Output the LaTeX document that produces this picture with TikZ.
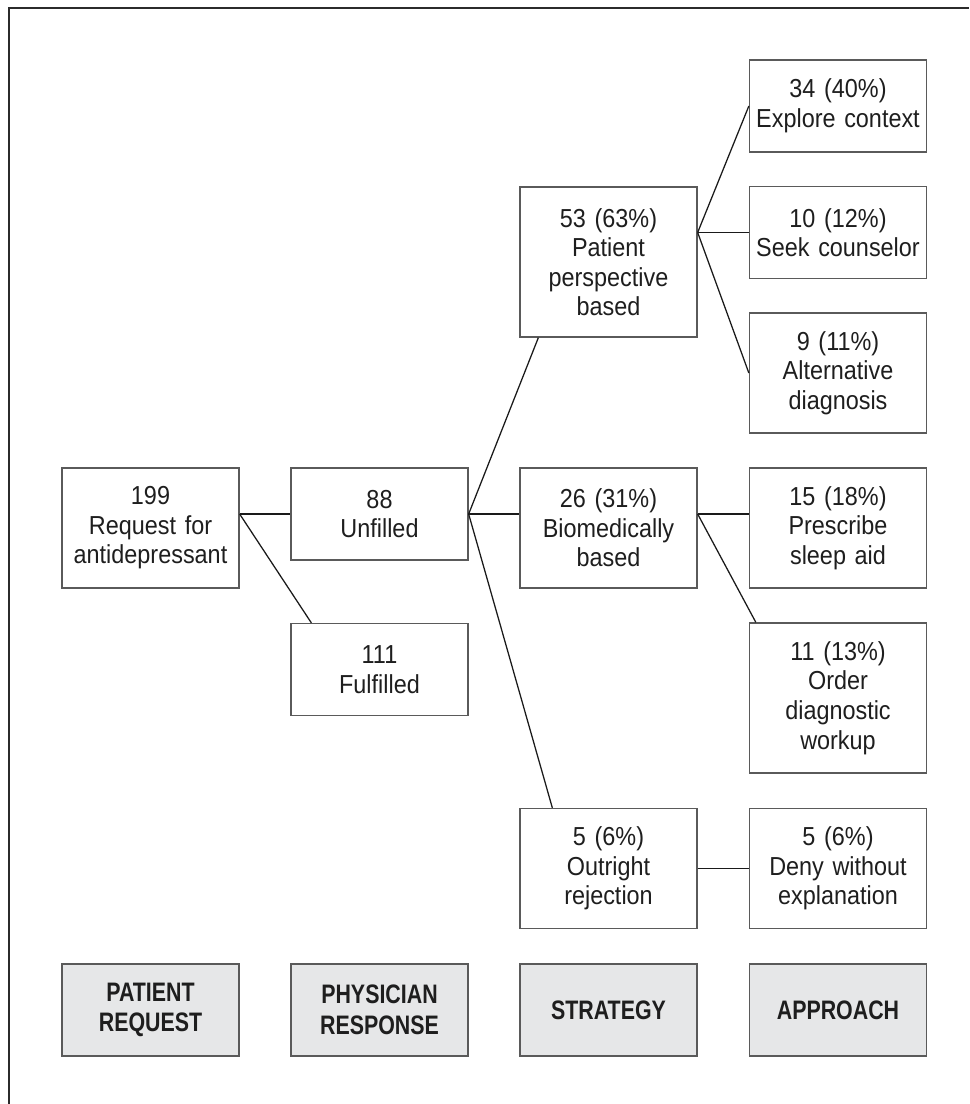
\documentclass[tikz,border=0pt]{standalone}
\usepackage{fontspec}
\setmainfont{Liberation Sans}[FakeStretch=0.9]
\newfontfamily\headfont{Liberation Sans}[FakeStretch=0.8]
\usetikzlibrary{calc}
\definecolor{FrameDark}{HTML}{2B2B2B}
\definecolor{BoxEdge}{HTML}{5A5A5A}
\definecolor{LinkBlack}{HTML}{1A1A1A}
\definecolor{HeadFill}{HTML}{E6E7E8}
\definecolor{TextDark}{HTML}{1E1E1E}

\tikzset{
    countbox/.style={draw=BoxEdge, line width=0.9pt, minimum width=4.425cm, text width=4.35cm,
        align=center, inner sep=0pt, text=TextDark, font=\fontsize{18.5}{21}\selectfont},
    headbox/.style={countbox, fill=HeadFill, minimum height=2.3cm,
        font=\headfont\bfseries\fontsize{19}{21.8}\selectfont},
    link/.style={draw=LinkBlack, line width=0.9pt},
}

\begin{document}
\begin{tikzpicture}[x=0.025cm, y=-0.025cm]
    \useasboundingbox (0,0) rectangle (969,1104);
    \draw[line width=1.8pt, color=FrameDark] (9,1104) -- (9,8) -- (969,8);

    % patient request and physician response
    \node[countbox, minimum height=3.0cm] (req) at (150.5,528) {199\\Request for\\antidepressant};
    \node[countbox, minimum height=2.3cm] (unf) at (379.5,514) {88\\Unfilled};
    \node[countbox, minimum height=2.3cm] (ful) at (379.5,669.5) {111\\Fulfilled};

    % strategy
    \node[countbox, minimum height=3.75cm] (pat) at (608.5,262) {53 (63\%)\\Patient\\perspective\\based};
    \node[countbox, minimum height=3.0cm] (bio) at (608.5,528) {26 (31\%)\\Biomedically\\based};
    \node[countbox, minimum height=3.0cm] (outr) at (608.5,868.5) {5 (6\%)\\Outright\\rejection};

    % approach
    \node[countbox, minimum height=2.3cm] (expl) at (838,106) {34 (40\%)\\Explore context};
    \node[countbox, minimum height=2.3cm] (seek) at (838,232.5) {10 (12\%)\\Seek counselor};
    \node[countbox, minimum height=3.0cm] (alt) at (838,373) {9 (11\%)\\Alternative\\diagnosis};
    \node[countbox, minimum height=3.0cm] (presc) at (838,528) {15 (18\%)\\Prescribe\\sleep aid};
    \node[countbox, minimum height=3.75cm] (order) at (838,698) {11 (13\%)\\Order\\diagnostic\\workup};
    \node[countbox, minimum height=3.0cm] (deny) at (838,868.5) {5 (6\%)\\Deny without\\explanation};

    % column headings
    \node[headbox] (hreq) at (150.5,1010) {PATIENT\\REQUEST};
    \node[headbox] (hres) at (379.5,1010) {PHYSICIAN\\RESPONSE};
    \node[headbox] (hstr) at (608.5,1010) {STRATEGY};
    \node[headbox] (happ) at (838,1010) {APPROACH};

    % connectors
    \coordinate (reqout) at (req.east |- unf.west);
    \draw[link] (reqout) -- (unf.west);
    \draw[link] (reqout) -- ($(ful.north west)+(21,0)$);

    \draw[link] (unf.east) -- ($(pat.south west)+(19,0)$);
    \draw[link] (unf.east) -- (unf.east -| bio.west);
    \draw[link] (unf.east) -- ($(outr.north west)+(33,0)$);

    \coordinate (patout) at (pat.east |- seek.west);
    \draw[link] (patout) -- (expl.west);
    \draw[link] (patout) -- (seek.west);
    \draw[link] (patout) -- (alt.west);

    \coordinate (bioout) at (bio.east |- unf.east);
    \draw[link] (bioout) -- (bioout -| presc.west);
    \draw[link] (bioout) -- ($(order.north west)+(7,0)$);

    \draw[link] (outr.east) -- (deny.west);
\end{tikzpicture}
\end{document}
